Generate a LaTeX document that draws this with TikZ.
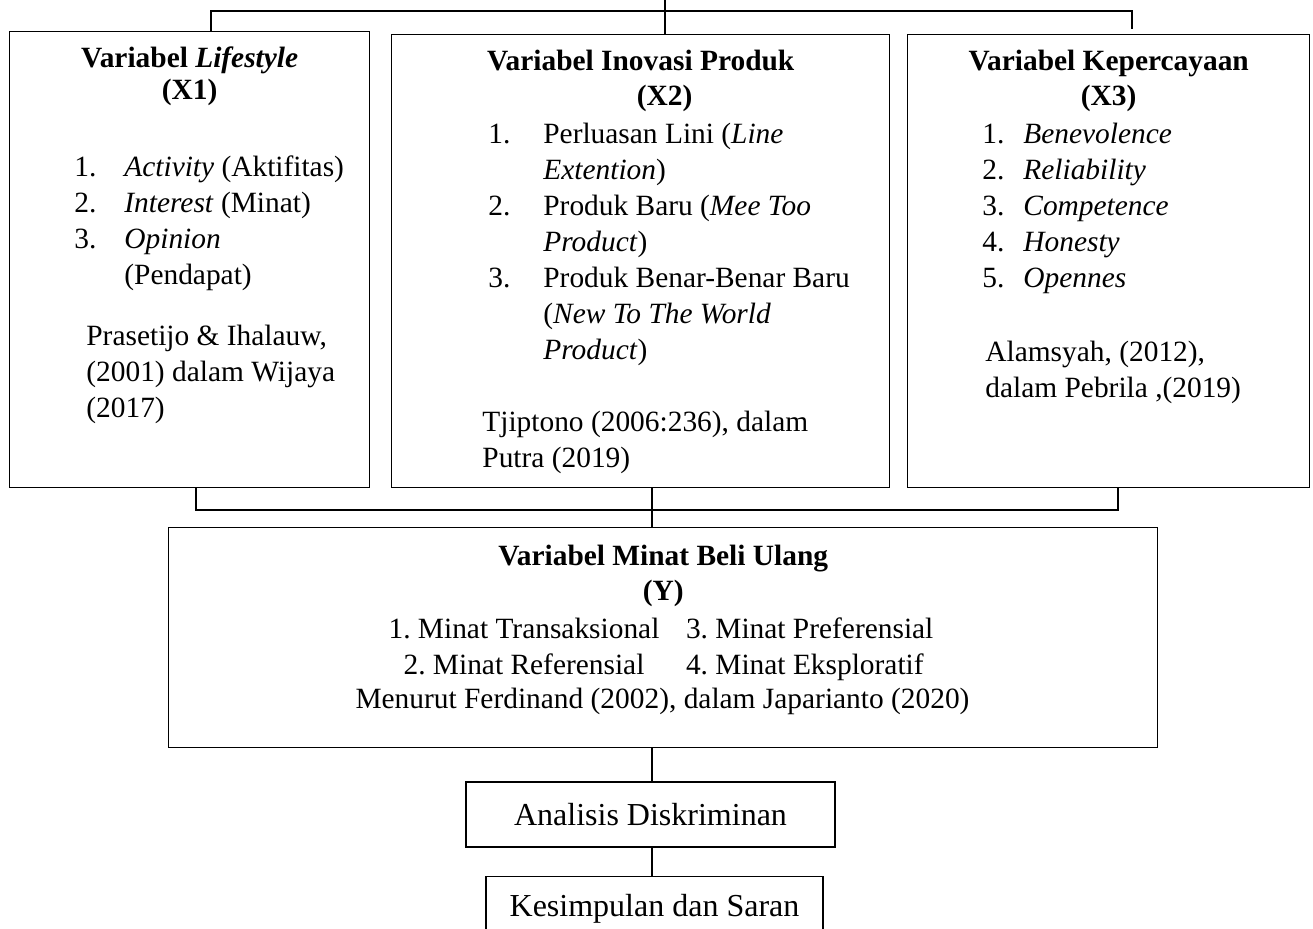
\documentclass[tikz,border=0pt]{standalone}
\usepackage{fontspec}
\setmainfont{Liberation Serif}
\usetikzlibrary{positioning}

% list item: number box + text
\newcommand{\itm}[3][25pt]{\makebox[#1][l]{#2}#3}

\begin{document}
\frenchspacing
\begin{tikzpicture}[
    x=0.5pt, y=-0.5pt,
    varbox/.style={rectangle, draw, line width=0.7pt, anchor=north west, inner sep=0pt},
    vartitle/.style={font=\fontsize{14.7}{16}\selectfont\bfseries, align=center, anchor=north, inner sep=0pt},
    vitems/.style={font=\fontsize{14.7}{18}\selectfont, align=left, anchor=north west, inner sep=0pt},
    stepbox/.style={rectangle, draw, line width=0.7pt, inner sep=0pt, font=\fontsize{16}{19}\selectfont},
    link/.style={line width=0.6pt}
]
\clip (0,0) rectangle (1313,928);

% Lifestyle (X1)
\node[varbox, minimum width=180pt, minimum height=228pt] (x1) at (9,31) {};
\node[vartitle, below=7.5pt of x1.north] (x1-title) {Variabel \textit{Lifestyle}\\(X1)};
\node[vitems] (x1-list) at (74,155) {
    \itm{1.}{\textit{Activity} (Aktifitas)}\\
    \itm{2.}{\textit{Interest} (Minat)}\\
    \itm{3.}{\textit{Opinion}}\\
    \itm{}{(Pendapat)}
};
\node[vitems] (x1-ref) at (86,325) {Prasetijo \& Ihalauw,\\(2001) dalam Wijaya\\(2017)};

% Inovasi Produk (X2)
\node[varbox, minimum width=249pt, minimum height=226.5pt] (x2) at (391,34) {};
\node[vartitle, font=\fontsize{14.7}{17.5}\selectfont\bfseries, below=8pt of x2.north] (x2-title)
    {Variabel Inovasi Produk\\\hspace*{24pt}(X2)};
\node[vitems] (x2-list) at (488,123) {
    \itm[27.5pt]{1.}{Perluasan Lini (\textit{Line}}\\
    \itm[27.5pt]{}{\textit{Extention})}\\
    \itm[27.5pt]{2.}{Produk Baru (\textit{Mee Too}}\\
    \itm[27.5pt]{}{\textit{Product})}\\
    \itm[27.5pt]{3.}{Produk Benar-Benar Baru}\\
    \itm[27.5pt]{}{(\textit{New To The World}}\\
    \itm[27.5pt]{}{\textit{Product})}
};
\node[vitems] (x2-ref) at (482,411) {Tjiptono (2006:236), dalam\\Putra (2019)};

% Kepercayaan (X3)
\node[varbox, minimum width=201pt, minimum height=226.5pt] (x3) at (907,34) {};
\node[vartitle, font=\fontsize{14.7}{17.5}\selectfont\bfseries, below=8pt of x3.north] (x3-title)
    {Variabel Kepercayaan\\(X3)};
\node[vitems] (x3-list) at (982,123) {
    \itm[20.5pt]{1.}{\textit{Benevolence}}\\
    \itm[20.5pt]{2.}{\textit{Reliability}}\\
    \itm[20.5pt]{3.}{\textit{Competence}}\\
    \itm[20.5pt]{4.}{\textit{Honesty}}\\
    \itm[20.5pt]{5.}{\textit{Opennes}}
};
\node[vitems] (x3-ref) at (985,341) {Alamsyah, (2012),\\dalam Pebrila ,(2019)};

% Minat Beli Ulang (Y)
\node[varbox, minimum width=494.5pt, minimum height=110pt] (ym) at (168,527) {};
\node[vartitle, font=\fontsize{14.7}{17.5}\selectfont\bfseries, below=9pt of ym.north] (ym-title)
    {Variabel Minat Beli Ulang\\(Y)};
\node[vitems, anchor=north, align=center] (ym-list) at (657.5,617) {
    \makebox[141pt][c]{1. Minat Transaksional}\hspace{10.5pt}\makebox[123pt][l]{3. Minat Preferensial}\\
    \makebox[141pt][c]{2. Minat Referensial}\hspace{10.5pt}\makebox[123pt][l]{4. Minat Eksploratif}
};
\node[vitems, anchor=north] (ym-ref) at (662.5,688) {Menurut Ferdinand (2002), dalam Japarianto (2020)};

% analysis steps
\node[stepbox, minimum width=184.5pt, minimum height=32.5pt] (anl) at (650.5,814.5) {Analisis Diskriminan};
\node[stepbox, minimum width=168.5pt, minimum height=32.5pt, below=14pt of anl, xshift=2pt] (kes) {Kesimpulan dan Saran};

% connectors
\coordinate (top-l) at (211,11);
\coordinate (top-r) at (1132,11);
\coordinate (top-in) at (665,0);
\coordinate (bot-l) at (196,510);
\coordinate (bot-r) at (1118,510);
\coordinate (mid) at (652,0);

\draw[link] (x1.north -| top-l) |- (top-r) -- ([yshift=2.5pt]x3.north -| top-r);
\draw[link] (top-in) -- (x2.north -| top-in);
\draw[link] (x1.south -| bot-l) |- (bot-r) -- (x3.south -| bot-r);
\draw[link] (x2.south -| mid) -- (ym.north -| mid);
\draw[link] (ym.south -| mid) -- (anl.north -| mid);
\draw[link] (anl.south -| mid) -- (kes.north -| mid);

\end{tikzpicture}
\end{document}
